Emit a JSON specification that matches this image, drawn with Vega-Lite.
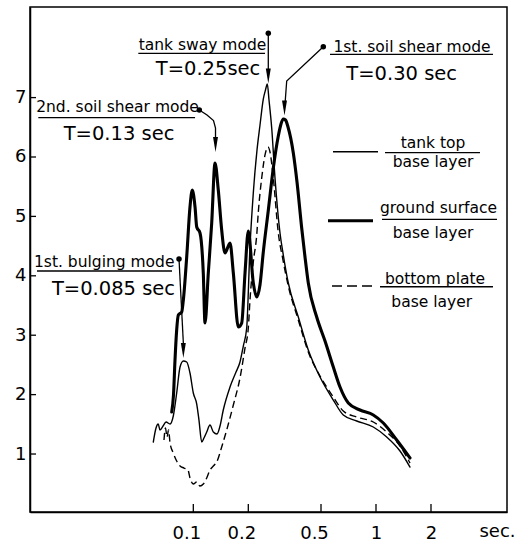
{
  "$schema": "https://vega.github.io/schema/vega-lite/v6.json",
  "width": 477,
  "height": 505,
  "autosize": {"type": "none"},
  "padding": {"left": 30, "top": 7, "right": 10, "bottom": 29},
  "background": "white",
  "config": {
    "view": {"stroke": "black", "strokeWidth": 1.5},
    "font": "DejaVu Sans"
  },
  "datasets": {
    "curves": [
      {"s":"tank top","T":0.0604,"v":1.202},{"s":"tank top","T":0.0625,"v":1.438},{"s":"tank top","T":0.0643,"v":1.505},{"s":"tank top","T":0.0657,"v":1.404},{"s":"tank top","T":0.0683,"v":1.471},{"s":"tank top","T":0.0709,"v":1.539},{"s":"tank top","T":0.0746,"v":1.505},{"s":"tank top","T":0.0777,"v":1.640},{"s":"tank top","T":0.0811,"v":2.027},{"s":"tank top","T":0.0846,"v":2.465},{"s":"tank top","T":0.0882,"v":2.566},{"s":"tank top","T":0.0920,"v":2.549},{"s":"tank top","T":0.0959,"v":2.364},{"s":"tank top","T":0.1000,"v":2.027},{"s":"tank top","T":0.1044,"v":1.842},{"s":"tank top","T":0.1074,"v":1.572},{"s":"tank top","T":0.1112,"v":1.202},{"s":"tank top","T":0.1144,"v":1.269},{"s":"tank top","T":0.1184,"v":1.370},{"s":"tank top","T":0.1234,"v":1.488},{"s":"tank top","T":0.1287,"v":1.370},{"s":"tank top","T":0.1348,"v":1.337},{"s":"tank top","T":0.1400,"v":1.471},{"s":"tank top","T":0.1459,"v":1.741},{"s":"tank top","T":0.1588,"v":2.128},{"s":"tank top","T":0.1713,"v":2.380},{"s":"tank top","T":0.1801,"v":2.549},{"s":"tank top","T":0.1878,"v":2.818},{"s":"tank top","T":0.1960,"v":3.121},{"s":"tank top","T":0.2043,"v":4.485},{"s":"tank top","T":0.2130,"v":5.394},{"s":"tank top","T":0.2232,"v":6.118},{"s":"tank top","T":0.2318,"v":6.539},{"s":"tank top","T":0.2416,"v":6.976},{"s":"tank top","T":0.2484,"v":7.128},{"s":"tank top","T":0.2541,"v":7.229},{"s":"tank top","T":0.2596,"v":6.960},{"s":"tank top","T":0.2686,"v":6.488},{"s":"tank top","T":0.2800,"v":5.646},{"s":"tank top","T":0.2982,"v":4.721},{"s":"tank top","T":0.3109,"v":4.350},{"s":"tank top","T":0.3311,"v":3.879},{"s":"tank top","T":0.3756,"v":3.306},{"s":"tank top","T":0.4260,"v":2.751},{"s":"tank top","T":0.4937,"v":2.296},{"s":"tank top","T":0.5839,"v":1.909},{"s":"tank top","T":0.6622,"v":1.657},{"s":"tank top","T":0.7841,"v":1.556},{"s":"tank top","T":0.9666,"v":1.455},{"s":"tank top","T":1.1444,"v":1.286},{"s":"tank top","T":1.3533,"v":1.051},{"s":"tank top","T":1.535,"v":0.781},
      {"s":"ground surface","T":0.0762,"v":1.707},{"s":"ground surface","T":0.0779,"v":1.993},{"s":"ground surface","T":0.0794,"v":2.582},{"s":"ground surface","T":0.0811,"v":3.088},{"s":"ground surface","T":0.0828,"v":3.340},{"s":"ground surface","T":0.0864,"v":3.391},{"s":"ground surface","T":0.0882,"v":3.593},{"s":"ground surface","T":0.0920,"v":4.316},{"s":"ground surface","T":0.0959,"v":5.158},{"s":"ground surface","T":0.0987,"v":5.444},{"s":"ground surface","T":0.1022,"v":5.158},{"s":"ground surface","T":0.1044,"v":4.822},{"s":"ground surface","T":0.1088,"v":4.721},{"s":"ground surface","T":0.1134,"v":4.047},{"s":"ground surface","T":0.1159,"v":3.205},{"s":"ground surface","T":0.1208,"v":4.047},{"s":"ground surface","T":0.1261,"v":4.889},{"s":"ground surface","T":0.1315,"v":5.899},{"s":"ground surface","T":0.1370,"v":5.444},{"s":"ground surface","T":0.1430,"v":4.771},{"s":"ground surface","T":0.1491,"v":4.384},{"s":"ground surface","T":0.1588,"v":4.552},{"s":"ground surface","T":0.1656,"v":4.047},{"s":"ground surface","T":0.1763,"v":3.138},{"s":"ground surface","T":0.1840,"v":3.205},{"s":"ground surface","T":0.1919,"v":4.047},{"s":"ground surface","T":0.2000,"v":4.754},{"s":"ground surface","T":0.2130,"v":3.879},{"s":"ground surface","T":0.2224,"v":3.643},{"s":"ground surface","T":0.2318,"v":3.850},{"s":"ground surface","T":0.2416,"v":4.400},{"s":"ground surface","T":0.2573,"v":5.100},{"s":"ground surface","T":0.2741,"v":5.815},{"s":"ground surface","T":0.2919,"v":6.354},{"s":"ground surface","T":0.3020,"v":6.556},{"s":"ground surface","T":0.3109,"v":6.640},{"s":"ground surface","T":0.3196,"v":6.623},{"s":"ground surface","T":0.3299,"v":6.505},{"s":"ground surface","T":0.3527,"v":6.067},{"s":"ground surface","T":0.3695,"v":5.579},{"s":"ground surface","T":0.3920,"v":4.805},{"s":"ground surface","T":0.4087,"v":4.316},{"s":"ground surface","T":0.4260,"v":3.879},{"s":"ground surface","T":0.4736,"v":3.306},{"s":"ground surface","T":0.5259,"v":2.902},{"s":"ground surface","T":0.5839,"v":2.465},{"s":"ground surface","T":0.6353,"v":2.128},{"s":"ground surface","T":0.7054,"v":1.859},{"s":"ground surface","T":0.8174,"v":1.741},{"s":"ground surface","T":0.9666,"v":1.657},{"s":"ground surface","T":1.0964,"v":1.522},{"s":"ground surface","T":1.298,"v":1.236},{"s":"ground surface","T":1.535,"v":0.933},
      {"s":"bottom plate","T":0.0691,"v":1.236},{"s":"bottom plate","T":0.0704,"v":1.438},{"s":"bottom plate","T":0.0718,"v":1.286},{"s":"bottom plate","T":0.0732,"v":1.404},{"s":"bottom plate","T":0.0746,"v":1.185},{"s":"bottom plate","T":0.0777,"v":1.017},{"s":"bottom plate","T":0.0811,"v":0.882},{"s":"bottom plate","T":0.0846,"v":0.798},{"s":"bottom plate","T":0.0889,"v":0.764},{"s":"bottom plate","T":0.0935,"v":0.731},{"s":"bottom plate","T":0.0959,"v":0.596},{"s":"bottom plate","T":0.1000,"v":0.495},{"s":"bottom plate","T":0.1044,"v":0.529},{"s":"bottom plate","T":0.1088,"v":0.461},{"s":"bottom plate","T":0.1134,"v":0.495},{"s":"bottom plate","T":0.1184,"v":0.596},{"s":"bottom plate","T":0.1234,"v":0.731},{"s":"bottom plate","T":0.1287,"v":0.798},{"s":"bottom plate","T":0.1343,"v":0.865},{"s":"bottom plate","T":0.1430,"v":1.118},{"s":"bottom plate","T":0.1523,"v":1.404},{"s":"bottom plate","T":0.1656,"v":1.825},{"s":"bottom plate","T":0.1801,"v":2.279},{"s":"bottom plate","T":0.1919,"v":2.785},{"s":"bottom plate","T":0.2000,"v":3.121},{"s":"bottom plate","T":0.2043,"v":3.593},{"s":"bottom plate","T":0.2130,"v":4.232},{"s":"bottom plate","T":0.2224,"v":4.687},{"s":"bottom plate","T":0.2269,"v":5.074},{"s":"bottom plate","T":0.2368,"v":5.646},{"s":"bottom plate","T":0.2469,"v":6.034},{"s":"bottom plate","T":0.2564,"v":6.168},{"s":"bottom plate","T":0.2629,"v":6.084},{"s":"bottom plate","T":0.2741,"v":5.646},{"s":"bottom plate","T":0.2919,"v":4.721},{"s":"bottom plate","T":0.3097,"v":4.266},{"s":"bottom plate","T":0.3311,"v":3.828},{"s":"bottom plate","T":0.3756,"v":3.256},{"s":"bottom plate","T":0.4260,"v":2.717},{"s":"bottom plate","T":0.4937,"v":2.313},{"s":"bottom plate","T":0.5839,"v":1.960},{"s":"bottom plate","T":0.6622,"v":1.724},{"s":"bottom plate","T":0.7841,"v":1.623},{"s":"bottom plate","T":0.9666,"v":1.539},{"s":"bottom plate","T":1.1444,"v":1.370},{"s":"bottom plate","T":1.3533,"v":1.135},{"s":"bottom plate","T":1.535,"v":0.848}
    ],
    "leaders": [
      {"id":"sway","o":0,"T":0.2573,"v":8.082},{"id":"sway","o":1,"T":0.2573,"v":7.364},
      {"id":"soil1","o":0,"T":0.5147,"v":7.857},{"id":"soil1","o":1,"T":0.32451,"v":7.279},{"id":"soil1","o":2,"T":0.31763,"v":6.892},
      {"id":"soil2","o":0,"T":0.10786,"v":6.791},{"id":"soil2","o":1,"T":0.11885,"v":6.707},{"id":"soil2","o":2,"T":0.12899,"v":6.614},{"id":"soil2","o":3,"T":0.13229,"v":6.488},{"id":"soil2","o":4,"T":0.13229,"v":6.286},
      {"id":"bulge","o":0,"T":0.083509,"v":4.283},{"id":"bulge","o":1,"T":0.0882,"v":2.869}
    ],
    "heads": [
      {"id":"sway","T":0.2573,"v":7.364},
      {"id":"soil1","T":0.31564,"v":6.825},
      {"id":"soil2","T":0.13229,"v":6.21},
      {"id":"bulge","T":0.0882,"v":2.742}
    ],
    "dots": [
      {"id":"sway","T":0.2573,"v":8.082},
      {"id":"soil1","T":0.5147,"v":7.857},
      {"id":"soil2","T":0.10786,"v":6.791},
      {"id":"bulge","T":0.083509,"v":4.283}
    ],
    "underlines": [
      {"id":"sway","T":0.05,"T2":0.2469,"v":7.746},
      {"id":"soil1","T":0.56006,"T2":4.3683,"v":7.729},
      {"id":"soil2","T":0.014177,"T2":0.1022,"v":6.662},
      {"id":"bulge","T":0.013947,"T2":0.076459,"v":4.081},
      {"id":"leg1","T":1.1202,"T2":3.7087,"v":6.072},
      {"id":"leg2","T":1.0786,"T2":4.5942,"v":4.951},
      {"id":"leg3","T":1.0518,"T2":4.3683,"v":3.816}
    ],
    "samples": [
      {"s":"tank top","T":0.58164,"T2":1.0256,"v":6.089},
      {"s":"ground surface","T":0.54612,"T2":0.96292,"v":4.928},
      {"s":"bottom plate","T":0.57436,"T2":0.96292,"v":3.828}
    ],
    "xticks": [
      {"T":0.1,"v":0.024,"v2":0.159},{"T":0.2,"v":0.024,"v2":0.159},{"T":0.5,"v":0.024,"v2":0.159},{"T":1,"v":0.024,"v2":0.159},{"T":2,"v":0.024,"v2":0.159}
    ],
    "yticks": [
      {"T":0.012767,"T2":0.013771,"v":1},{"T":0.012767,"T2":0.013771,"v":2},{"T":0.012767,"T2":0.013771,"v":3},{"T":0.012767,"T2":0.013771,"v":4},{"T":0.012767,"T2":0.013771,"v":5},{"T":0.012767,"T2":0.013771,"v":6},{"T":0.012767,"T2":0.013771,"v":7}
    ],
    "modes": [
      {"label":"tank sway mode","T":0.11229,"v":7.801},
      {"label":"1st. soil shear mode","T":1.5742,"v":7.773},
      {"label":"2nd. soil shear mode","T":0.038469,"v":6.763},
      {"label":"1st. bulging mode","T":0.032533,"v":4.148}
    ],
    "periods": [
      {"label":"T=0.25sec","T":0.12036,"v":7.38},
      {"label":"T=0.30 sec","T":1.3826,"v":7.296},
      {"label":"T=0.13 sec","T":0.039203,"v":6.286},
      {"label":"T=0.085 sec","T":0.036578,"v":3.677}
    ],
    "legendText": [
      {"label":"tank top","T":2.0514,"v":6.146},
      {"label":"base layer","T":2.0514,"v":5.827},
      {"label":"ground surface","T":2.1987,"v":5.052},
      {"label":"base layer","T":2.0514,"v":4.631},
      {"label":"bottom plate","T":2.1038,"v":3.862},
      {"label":"base layer","T":2.0181,"v":3.48}
    ],
    "unit": [
      {"label":"sec.","T":4.6233,"v":-0.397}
    ]
  },
  "encoding": {
    "x": {
      "field": "T", "type": "quantitative",
      "scale": {"type": "log", "domain": [0.012767, 5.2127], "nice": false},
      "axis": {
        "values": [0.1, 0.2, 0.5, 1, 2], "format": "~g", "title": null, "grid": false,
        "ticks": false,
        "domainColor": "black", "domainWidth": 1.5,
        "labelFont": "DejaVu Sans", "labelFontSize": 18, "labelColor": "black",
        "labelPadding": 12, "labelBaseline": "top", "labelFlush": false,
        "labelOffset": {"condition": {"test": "datum.value < 0.9", "value": -7}, "value": 0}
      }
    },
    "y": {
      "field": "v", "type": "quantitative",
      "scale": {"domain": [0.024, 8.525], "nice": false, "zero": false},
      "axis": {
        "values": [1, 2, 3, 4, 5, 6, 7], "title": null, "grid": false,
        "ticks": false,
        "domainColor": "black", "domainWidth": 1.5,
        "labelFont": "DejaVu Sans", "labelFontSize": 18, "labelColor": "black",
        "labelPadding": 4
      }
    }
  },
  "layer": [
    {
      "data": {"name": "xticks"},
      "mark": {"type": "rule", "color": "black", "strokeWidth": 1.3},
      "encoding": {"y2": {"field": "v2"}}
    },
    {
      "data": {"name": "yticks"},
      "mark": {"type": "rule", "color": "black", "strokeWidth": 1.3},
      "encoding": {"x2": {"field": "T2"}}
    },
    {
      "data": {"name": "curves"},
      "transform": [{"filter": "datum.s === 'tank top'"}],
      "mark": {"type": "line", "color": "black", "strokeWidth": 1.4, "interpolate": "monotone", "strokeCap": "round", "strokeJoin": "round"}
    },
    {
      "data": {"name": "curves"},
      "transform": [{"filter": "datum.s === 'ground surface'"}],
      "mark": {"type": "line", "color": "black", "strokeWidth": 3.1, "interpolate": "monotone", "strokeCap": "round", "strokeJoin": "round"}
    },
    {
      "data": {"name": "curves"},
      "transform": [{"filter": "datum.s === 'bottom plate'"}],
      "mark": {"type": "line", "color": "black", "strokeWidth": 1.4, "strokeDash": [7, 4], "interpolate": "monotone"}
    },
    {
      "data": {"name": "leaders"},
      "mark": {"type": "line", "color": "black", "strokeWidth": 1.3},
      "encoding": {
        "detail": {"field": "id"},
        "order": {"field": "o", "type": "quantitative"}
      }
    },
    {
      "data": {"name": "heads"},
      "mark": {"type": "point", "shape": "M-0.33,-1L0.33,-1L0,1Z", "filled": true, "color": "black", "opacity": 1, "size": 225}
    },
    {
      "data": {"name": "dots"},
      "mark": {"type": "point", "shape": "circle", "filled": true, "color": "black", "opacity": 1, "size": 30}
    },
    {
      "data": {"name": "underlines"},
      "mark": {"type": "rule", "color": "black", "strokeWidth": 1.3},
      "encoding": {"x2": {"field": "T2"}}
    },
    {
      "data": {"name": "samples"},
      "transform": [{"filter": "datum.s === 'tank top'"}],
      "mark": {"type": "rule", "color": "black", "strokeWidth": 1.4},
      "encoding": {"x2": {"field": "T2"}}
    },
    {
      "data": {"name": "samples"},
      "transform": [{"filter": "datum.s === 'ground surface'"}],
      "mark": {"type": "rule", "color": "black", "strokeWidth": 3.1},
      "encoding": {"x2": {"field": "T2"}}
    },
    {
      "data": {"name": "samples"},
      "transform": [{"filter": "datum.s === 'bottom plate'"}],
      "mark": {"type": "rule", "color": "black", "strokeWidth": 1.4, "strokeDash": [10, 5]},
      "encoding": {"x2": {"field": "T2"}}
    },
    {
      "data": {"name": "modes"},
      "mark": {"type": "text", "font": "DejaVu Sans", "fontSize": 15.5, "align": "center", "baseline": "alphabetic", "color": "black"},
      "encoding": {"text": {"field": "label"}}
    },
    {
      "data": {"name": "periods"},
      "mark": {"type": "text", "font": "DejaVu Sans", "fontSize": 19.5, "align": "center", "baseline": "alphabetic", "color": "black"},
      "encoding": {"text": {"field": "label"}}
    },
    {
      "data": {"name": "legendText"},
      "mark": {"type": "text", "font": "DejaVu Sans", "fontSize": 15.5, "align": "center", "baseline": "alphabetic", "color": "black"},
      "encoding": {"text": {"field": "label"}}
    },
    {
      "data": {"name": "unit"},
      "mark": {"type": "text", "font": "DejaVu Sans", "fontSize": 18, "align": "center", "baseline": "alphabetic", "color": "black"},
      "encoding": {"text": {"field": "label"}}
    }
  ]
}
